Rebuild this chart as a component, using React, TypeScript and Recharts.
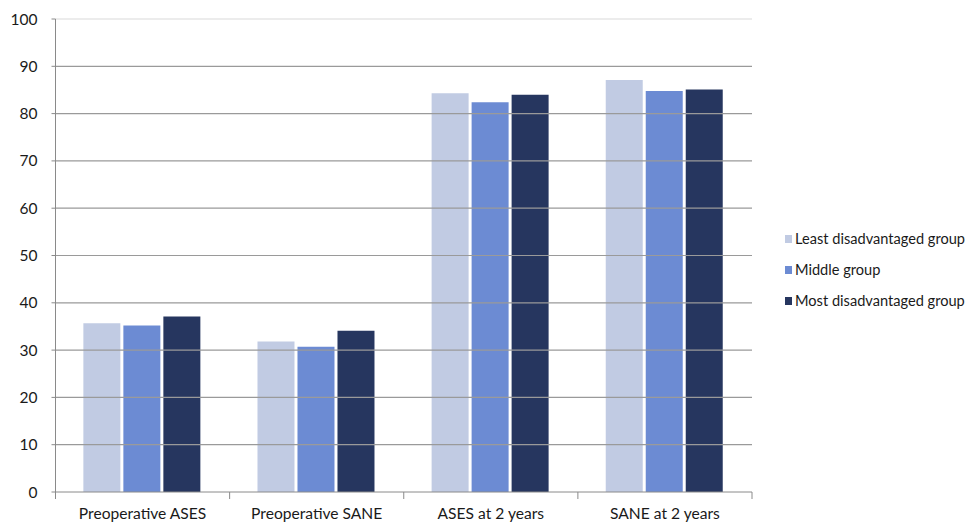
import React from "react";
import { BarChart, Bar, XAxis, YAxis, ReferenceLine, Legend } from "recharts";

const categories = ["Preoperative ASES", "Preoperative SANE", "ASES at 2 years", "SANE at 2 years"];
const leastDisadvantaged = [35.7, 31.8, 84.3, 87.1];
const middleGroup = [35.2, 30.7, 82.4, 84.8];
const mostDisadvantaged = [37.1, 34.1, 84.0, 85.1];
const yTicks = [0, 10, 20, 30, 40, 50, 60, 70, 80, 90, 100];
const gridValues = [10, 20, 30, 40, 50, 60, 70, 80, 90];

const seriesInfo = [
  { key: "least", name: "Least disadvantaged group", color: "#C1CBE3" },
  { key: "middle", name: "Middle group", color: "#6C8BD3" },
  { key: "most", name: "Most disadvantaged group", color: "#26365F" },
];

const data = categories.map((c, i) => ({
  category: c,
  least: leastDisadvantaged[i],
  middle: middleGroup[i],
  most: mostDisadvantaged[i],
}));

const FONT = "Lato, 'Open Sans', sans-serif";
const AXIS_GREY = "#8a8a8a";
const TICK_LEN = 7;

const CHART_W = 967;
const CHART_H = 527;
const MARGIN = { top: 19, right: 215, bottom: 0, left: 0 };
const Y_AXIS_W = 55.5;
const PLOT_W = CHART_W - MARGIN.left - MARGIN.right - Y_AXIS_W;
const BAND_W = PLOT_W / categories.length;

const LegendBox = () => (
  <div style={{ fontFamily: FONT, fontSize: 14.6, color: "#1a1a1a", textAlign: "left" }}>
    {seriesInfo.map((s) => (
      <div key={s.key} style={{ display: "flex", alignItems: "center", height: 31 }}>
        <span style={{ width: 7, height: 8, background: s.color, marginRight: 3, display: "inline-block" }} />
        <span>{s.name}</span>
      </div>
    ))}
  </div>
);

// Category label with tick marks on the band edges (Excel-style "between" ticks)
const CategoryTick = (props: any) => {
  const { x, y, payload, index } = props;
  const last = index === categories.length - 1;
  const left = x - BAND_W / 2;
  const right = x + BAND_W / 2;
  return (
    <g>
      <line x1={left} x2={left} y1={y} y2={y + TICK_LEN} stroke={AXIS_GREY} strokeWidth={1} />
      {last && <line x1={right} x2={right} y1={y} y2={y + TICK_LEN} stroke={AXIS_GREY} strokeWidth={1} />}
      <text
        x={x}
        y={y + 16}
        dy="0.71em"
        textAnchor="middle"
        fill="#1a1a1a"
        fontSize={15.6}
        fontFamily={FONT}
      >
        {payload.value}
      </text>
    </g>
  );
};

export default function App() {
  return (
    <div style={{ position: "absolute", left: 0, top: 0, width: CHART_W, height: CHART_H, background: "#fff" }}>
      <BarChart
        width={CHART_W}
        height={CHART_H}
        data={data}
        margin={MARGIN}
        barCategoryGap="16%"
        barGap={3}
      >
        <YAxis
          domain={[0, 100]}
          ticks={yTicks}
          width={Y_AXIS_W}
          tickSize={4}
          tickMargin={14}
          axisLine={{ stroke: AXIS_GREY }}
          tickLine={{ stroke: AXIS_GREY }}
          tick={{ fill: "#1a1a1a", fontSize: 15.5, fontFamily: FONT }}
        />
        <XAxis
          dataKey="category"
          height={35}
          axisLine={{ stroke: AXIS_GREY }}
          tickLine={false}
          tickSize={0}
          tickMargin={0}
          interval={0}
          tick={<CategoryTick />}
        />
        <ReferenceLine y={100} stroke="#ececec" strokeWidth={2} />
        {gridValues.map((v) => (
          <ReferenceLine key={v} y={v} stroke="#9a9a9a" strokeWidth={1.2} />
        ))}
        <Legend
          layout="horizontal"
          align="center"
          verticalAlign="middle"
          content={<LegendBox />}
          wrapperStyle={{ left: 785, top: 223, width: 182 }}
        />
        {seriesInfo.map((s) => (
          <Bar
            key={s.key}
            dataKey={s.key}
            name={s.name}
            fill={s.color}
            isAnimationActive={false}
          />
        ))}
      </BarChart>
    </div>
  );
}
